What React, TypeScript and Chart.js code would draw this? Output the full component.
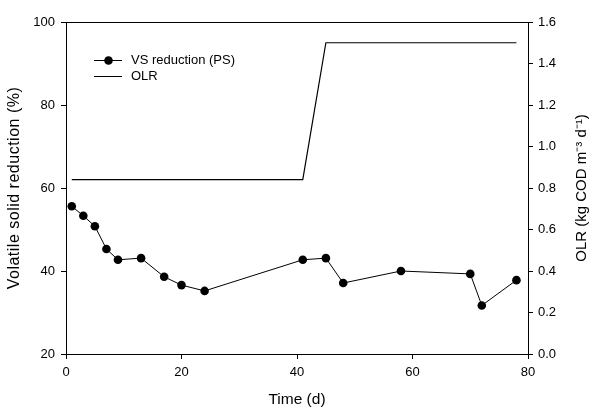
import React, { useEffect, useRef } from "react";
import { Chart, registerables } from "chart.js";

Chart.register(...registerables);

const vsDays = [1, 3, 5, 7, 9, 13, 17, 20, 24, 41, 45, 48, 58, 70, 72, 78];
const vsValues = [55.6, 53.3, 50.8, 45.3, 42.7, 43.1, 38.6, 36.6, 35.2, 42.7, 43.1, 37.1, 40.0, 39.3, 31.7, 37.8];
const olrDays = [1, 41, 45, 78];
const olrValues = [0.84, 0.84, 1.5, 1.5];
const xTicks = [0, 20, 40, 60, 80];
const leftTicks = [20, 40, 60, 80, 100];
const rightTicks = [0, 0.2, 0.4, 0.6, 0.8, 1.0, 1.2, 1.4, 1.6];

const FONT = "'Liberation Sans', Arial, sans-serif";

const overlay = {
  id: "overlay",
  afterDraw(chart: any) {
    const ctx = chart.ctx;
    const a = chart.chartArea;
    ctx.save();
    ctx.strokeStyle = "#000";
    ctx.lineWidth = 1;
    ctx.beginPath();
    ctx.moveTo(a.left, a.top + 0.5);
    ctx.lineTo(a.right, a.top + 0.5);
    ctx.stroke();

    ctx.fillStyle = "#000";
    ctx.font = `15.5px ${FONT}`;
    ctx.textAlign = "center";
    ctx.textBaseline = "middle";
    ctx.fillText("Time (d)", (a.left + a.right) / 2, 400);

    const cy = 188;
    ctx.save();
    ctx.translate(15, cy);
    ctx.rotate(-Math.PI / 2);
    ctx.font = `16px ${FONT}`;
    (ctx as any).letterSpacing = "0.5px";
    ctx.fillText("Volatile solid reduction (%)", 0, 0);
    ctx.restore();

    ctx.save();
    ctx.translate(582, cy);
    ctx.rotate(-Math.PI / 2);
    ctx.font = `15px ${FONT}`;
    ctx.fillText("OLR (kg COD m\u207B\u00B3 d\u207B\u00B9)", 0, 0);
    ctx.restore();

    // legend
    ctx.beginPath();
    ctx.moveTo(94, 60.5);
    ctx.lineTo(122, 60.5);
    ctx.moveTo(94, 76.5);
    ctx.lineTo(122, 76.5);
    ctx.stroke();
    ctx.beginPath();
    ctx.arc(108.5, 60.5, 4.3, 0, Math.PI * 2);
    ctx.fill();
    ctx.font = `13px ${FONT}`;
    ctx.textAlign = "left";
    ctx.fillText("VS reduction (PS)", 131, 60);
    ctx.fillText("OLR", 131, 76);
    ctx.restore();
  },
};

export default function App() {
  const ref = useRef<HTMLCanvasElement>(null);
  useEffect(() => {
    document.body.style.margin = "0";
    const tickFont = { family: FONT, size: 13 };
    const chart = new Chart(ref.current!, {
      type: "line",
      data: {
        datasets: [
          {
            label: "VS reduction (PS)",
            data: vsDays.map((d, i) => ({ x: d, y: vsValues[i] })),
            borderColor: "#000",
            backgroundColor: "#000",
            borderWidth: 1,
            pointRadius: 4.3,
            pointBorderWidth: 0,
            pointBackgroundColor: "#000",
            yAxisID: "y",
          },
          {
            label: "OLR",
            data: olrDays.map((d, i) => ({ x: d, y: olrValues[i] })),
            borderColor: "#000",
            borderWidth: 1.2,
            pointRadius: 0,
            yAxisID: "y1",
          },
        ],
      },
      options: {
        responsive: false,
        animation: false,
        layout: { padding: { top: 22, left: 0, right: 0, bottom: 0 } },
        plugins: { legend: { display: false }, tooltip: { enabled: false } },
        scales: {
          x: {
            type: "linear",
            min: 0,
            max: 80,
            afterBuildTicks: (s: any) => { s.ticks = xTicks.map((v) => ({ value: v })); },
            afterFit: (s: any) => { s.height = 65; },
            ticks: { color: "#000", font: tickFont, padding: 6, maxRotation: 0 },
            grid: { display: true, drawOnChartArea: false, tickLength: 5, tickColor: "#000" },
            border: { display: true, color: "#000", width: 1 },
          },
          y: {
            type: "linear",
            position: "left",
            min: 20,
            max: 100,
            afterBuildTicks: (s: any) => { s.ticks = leftTicks.map((v) => ({ value: v })); },
            afterFit: (s: any) => { s.width = 66; },
            ticks: { color: "#000", font: tickFont, padding: 6 },
            grid: { display: true, drawOnChartArea: false, tickLength: 5, tickColor: "#000" },
            border: { display: true, color: "#000", width: 1 },
          },
          y1: {
            type: "linear",
            position: "right",
            min: 0,
            max: 1.6,
            afterBuildTicks: (s: any) => { s.ticks = rightTicks.map((v) => ({ value: v })); },
            afterFit: (s: any) => { s.width = 74; },
            ticks: { color: "#000", font: tickFont, padding: 5, callback: (v: any) => Number(v).toFixed(1) },
            grid: { display: true, drawOnChartArea: false, tickLength: 5, tickColor: "#000" },
            border: { display: true, color: "#000", width: 1 },
          },
        },
      },
      plugins: [overlay],
    });
    return () => chart.destroy();
  }, []);
  return (
    <div style={{ width: 602, height: 419, background: "#fff" }}>
      <canvas ref={ref} width={602} height={419} style={{ display: "block" }} />
    </div>
  );
}
